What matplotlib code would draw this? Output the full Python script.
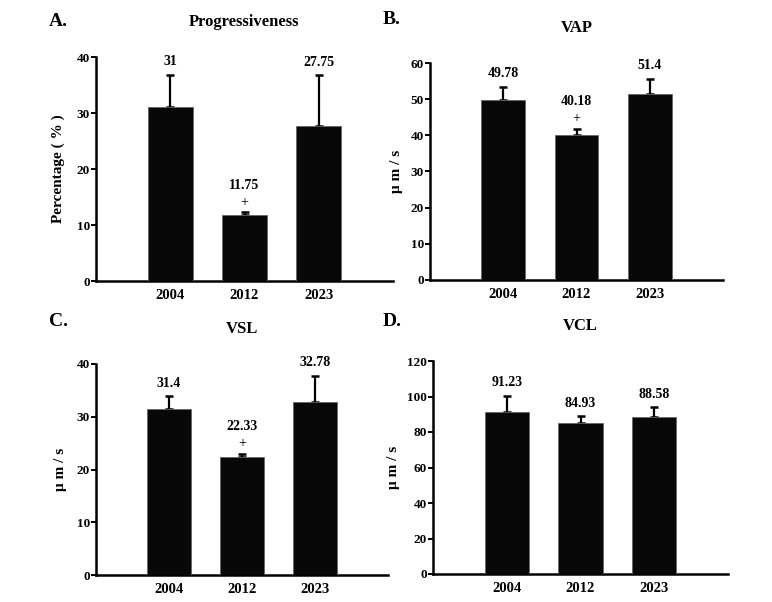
import numpy as np
import matplotlib
matplotlib.use("Agg")
import matplotlib.pyplot as plt

plt.rcParams['font.family'] = ['Liberation Serif', 'DejaVu Serif']
plt.rcParams['font.weight'] = 'bold'

# data
years = ['2004', '2012', '2023']
prog_mean = [31, 11.75, 27.75]
prog_err = [5.8, 0.5, 9.0]
vap_mean = [49.78, 40.18, 51.4]
vap_err = [3.7, 1.7, 4.3]
vsl_mean = [31.4, 22.33, 32.78]
vsl_err = [2.45, 0.65, 4.95]
vcl_mean = [91.23, 84.93, 88.58]
vcl_err = [9.1, 3.9, 5.3]
plus_marks = [[False, True, False], [False, True, False],
              [False, True, False], [False, False, False]]

titles = ['Progressiveness', 'VAP', 'VSL', 'VCL']
letters = ['A.', 'B.', 'C.', 'D.']
ylabels = ['Percentage ( % )', 'μ m / s', 'μ m / s', 'μ m / s']
ymax = [40, 60, 40, 120]
ystep = [10, 10, 10, 20]
means = [prog_mean, vap_mean, vsl_mean, vcl_mean]
errs = [prog_err, vap_err, vsl_err, vcl_err]

W, H = 772, 602
# axes boxes in pixels: left, right, top, bottom
boxes = [(96, 393, 57, 281), (430, 723, 63, 280),
         (96, 388, 364, 575), (433, 728, 361, 574)]
letter_pos = [(49, 21), (383, 20), (49, 322), (383, 322)]
ylab_off = [31, 27, 29, 33]

fig = plt.figure(figsize=(W / 100, H / 100), dpi=100)

for i in range(4):
    l, r, t, b = boxes[i]
    ax = fig.add_axes([l / W, 1 - b / H, (r - l) / W, (b - t) / H])
    x = np.arange(len(years))
    m = np.array(means[i])
    e = np.array(errs[i])
    ax.bar(x, m, width=0.6, color='#080808', edgecolor='#666666', linewidth=0.6, zorder=3)
    ax.errorbar(x, m, yerr=[np.zeros_like(e), e], fmt='none', ecolor='black',
                elinewidth=1.6, capsize=3, capthick=1.8, zorder=2)
    for j in range(len(x)):
        top = m[j] + e[j]
        if plus_marks[i][j]:
            ax.annotate('+', (x[j], top), xytext=(0, 7), textcoords='offset points',
                        ha='center', va='center', fontsize=10, fontweight='normal')
            off = 19.5
        else:
            off = 9.5
        ax.annotate(f'{m[j]:g}', (x[j], top), xytext=(0, off), textcoords='offset points',
                    ha='center', va='center', fontsize=10, fontweight='bold')
    ax.set_xlim(-1, 3)
    ax.set_ylim(0, ymax[i])
    ax.set_yticks(np.arange(0, ymax[i] + 1, ystep[i]))
    ax.set_xticks(x)
    ax.set_xticklabels(years, fontsize=10.5, fontweight='bold')
    ax.tick_params(axis='x', length=0, pad=6)
    ax.tick_params(axis='y', length=3.5, width=1.4, labelsize=9.5, pad=1)
    for s in ['top', 'right']:
        ax.spines[s].set_visible(False)
    for s in ['left', 'bottom']:
        ax.spines[s].set_linewidth(1.8)
    ax.set_ylabel(ylabels[i], fontsize=11, fontweight='bold')
    ax.yaxis.set_label_coords(-ylab_off[i] / (r - l), 0.5)
    ax.set_title(titles[i], fontsize=12, fontweight='bold', pad=22)
    lx, ly = letter_pos[i]
    fig.text(lx / W, 1 - ly / H, letters[i], fontsize=14, fontweight='bold',
             ha='left', va='center')

fig.savefig('out.png', dpi=100)
